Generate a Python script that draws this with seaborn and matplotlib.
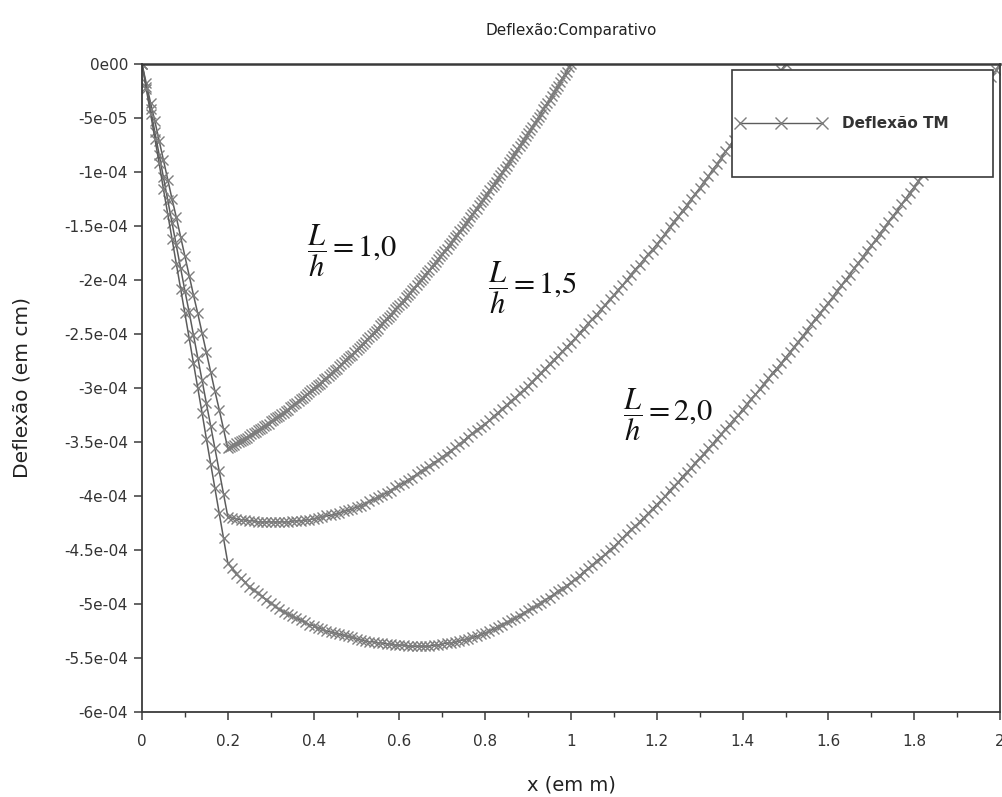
import numpy as np
import matplotlib
matplotlib.use("Agg")
import matplotlib.pyplot as plt
import seaborn as sns
from matplotlib.patches import Rectangle
from matplotlib.lines import Line2D
from matplotlib.ticker import MultipleLocator

# ---------------- data: deflection magnitude in units of 1e-6 cm ----------------
# steep segment sampled every 0.01 m from x = 0 to 0.19 m; main segment starts at x = 0.20 m
steep_step = 0.01
main_start = 0.20

# L/h = 1,0
lh10_steep = [0, 18, 36, 53, 71, 89, 107, 125, 142, 160, 178, 196, 214, 231, 249, 267, 285, 303, 320, 338]
lh10_step = 0.005
lh10_main = [356, 355, 354, 353, 351, 350, 349, 348, 347, 346, 344, 343, 342, 341, 339, 338, 337, 335,
             334, 333, 331, 330, 328, 327, 326, 324, 323, 321, 320, 318, 317, 315, 314, 312, 310, 309,
             307, 306, 304, 302, 301, 299, 297, 296, 294, 292, 291, 289, 287, 285, 283, 282, 280, 278,
             276, 274, 272, 270, 269, 267, 265, 263, 261, 259, 257, 255, 253, 251, 249, 247, 245, 242,
             240, 238, 236, 234, 232, 230, 227, 225, 223, 221, 219, 216, 214, 212, 209, 207, 205, 202,
             200, 198, 195, 193, 191, 188, 186, 183, 181, 178, 176, 173, 171, 168, 166, 163, 160, 158,
             155, 153, 150, 147, 145, 142, 139, 137, 134, 131, 128, 126, 123, 120, 117, 114, 112, 109,
             106, 103, 100, 97, 94, 91, 88, 85, 82, 79, 76, 73, 70, 67, 64, 61, 58, 55, 52, 49, 46, 42,
             39, 36, 33, 30, 26, 23, 20, 17, 13, 10, 7, 3, 0]

# L/h = 1,5
lh15_steep = [0, 21, 42, 63, 84, 105, 126, 147, 168, 189, 210, 230, 251, 272, 293, 314, 335, 356, 377, 398]
lh15_step = 0.01
lh15_main = [419,
             420, 421, 422, 422, 423, 423, 424, 424, 424, 424,
             424, 424, 424, 424, 423, 423, 423, 422, 422, 421,
             420, 419, 418, 418, 417, 416, 414, 413, 412, 410,
             409, 407, 405, 403, 401, 399, 397, 395, 392, 390,
             388, 385, 383, 380, 377, 375, 372, 369, 367, 364,
             361, 358, 355, 352, 349, 345, 342, 339, 336, 333,
             330, 326, 323, 319, 316, 312, 309, 305, 302, 298,
             294, 290, 286, 282, 278, 274, 270, 266, 262, 258,
             254, 249, 245, 240, 236, 232, 227, 223, 218, 214,
             209, 205, 200, 195, 190, 186, 181, 176, 172, 167,
             162, 157, 151, 146, 141, 136, 131, 125, 120, 115,
             109, 104, 98, 93, 87, 81, 76, 70, 65, 59,
             53, 47, 41, 35, 29, 24, 18, 12, 6, 0]

# L/h = 2,0
lh20_steep = [0, 23, 46, 69, 92, 116, 139, 162, 185, 208, 231, 254, 277, 300, 323, 347, 370, 393, 416, 439]
lh20_step = 0.01
lh20_main = [462,
             467, 472, 476, 480, 484, 487, 490, 493, 496, 499,
             502, 505, 507, 509, 511, 513, 515, 517, 519, 520,
             522, 523, 525, 526, 527, 528, 529, 530, 531, 532,
             533, 534, 535, 535, 536, 536, 537, 537, 538, 538,
             538, 539, 539, 539, 539, 539, 539, 538, 538, 537,
             536, 536, 535, 534, 533, 532, 531, 530, 528, 527,
             525, 523, 521, 519, 517, 515, 513, 511, 508, 506,
             504, 501, 499, 496, 494, 491, 488, 486, 483, 480,
             477, 474, 470, 467, 464, 460, 457, 454, 450, 447,
             443, 439, 435, 431, 428, 424, 420, 416, 412, 408,
             404, 400, 395, 391, 387, 382, 378, 374, 369, 365,
             361, 356, 352, 347, 343, 338, 334, 329, 325, 320,
             315, 310, 306, 301, 296, 291, 286, 282, 277, 272,
             267, 262, 257, 252, 247, 241, 236, 231, 226, 221,
             216, 210, 205, 200, 195, 189, 184, 179, 173, 168,
             163, 157, 152, 146, 141, 136, 130, 125, 119, 114,
             108, 103, 97, 91, 86, 80, 75, 69, 63, 58,
             52, 46, 41, 35, 29, 23, 17, 12, 6, 0]

curve_texts = [r"$\dfrac{L}{h}=1{,}0$", r"$\dfrac{L}{h}=1{,}5$", r"$\dfrac{L}{h}=2{,}0$"]
legend_label = "Deflexão TM"
title = "Deflexão:Comparativo"
xlabel = "x (em m)"
ylabel = "Deflexão (em cm)"
xtick_values = [0, 0.2, 0.4, 0.6, 0.8, 1.0, 1.2, 1.4, 1.6, 1.8, 2.0]
xtick_labels = ["0", "0.2", "0.4", "0.6", "0.8", "1", "1.2", "1.4", "1.6", "1.8", "2"]
ytick_values = [0, -5e-05, -1e-04, -1.5e-04, -2e-04, -2.5e-04, -3e-04, -3.5e-04,
                -4e-04, -4.5e-04, -5e-04, -5.5e-04, -6e-04]
ytick_labels = ["0e00", "-5e-05", "-1e-04", "-1.5e-04", "-2e-04", "-2.5e-04", "-3e-04", "-3.5e-04",
                "-4e-04", "-4.5e-04", "-5e-04", "-5.5e-04", "-6e-04"]

# ---------------- style ----------------
sns.set_style("ticks")
plt.rcParams["font.family"] = ["DejaVu Sans"]
line_color = "#5c5c5c"
marker_color = "#7e7e7e"
axis_color = "#3a3a3a"

W, H = 1002, 797
fig = plt.figure(figsize=(W / 100, H / 100), dpi=100)
fig.patch.set_facecolor("white")
ax = fig.add_axes([142 / W, 1 - 712 / H, 858 / W, 648 / H])
ax.set_facecolor("white")


def build_xy(steep, main, main_step):
    xs = np.round(np.arange(len(steep)) * steep_step, 3)
    xm = np.round(main_start + np.arange(len(main)) * main_step, 3)
    x = np.concatenate([xs, xm])
    y = -np.asarray(list(steep) + list(main), dtype=float) * 1e-6
    return x, y


for steep, main, st in [(lh10_steep, lh10_main, lh10_step),
                        (lh15_steep, lh15_main, lh15_step),
                        (lh20_steep, lh20_main, lh20_step)]:
    x, y = build_xy(steep, main, st)
    sns.lineplot(x=x, y=y, ax=ax, color=line_color, linewidth=1.1, marker="x",
                 markersize=7.5, markeredgewidth=1.0, markeredgecolor=marker_color,
                 estimator=None, sort=False, legend=False)

ax.set_xlim(0, 2)
ax.set_ylim(-6e-4, 0)
ax.set_xticks(xtick_values)
ax.set_xticklabels(xtick_labels)
ax.xaxis.set_minor_locator(MultipleLocator(0.1))
ax.set_yticks(ytick_values)
ax.set_yticklabels(ytick_labels)

for s in ax.spines.values():
    s.set_visible(True)
    s.set_color(axis_color)
    s.set_linewidth(1.3)
ax.spines["top"].set_linewidth(1.8)
ax.tick_params(axis="both", which="major", direction="out", length=6, width=1.1,
               color=axis_color, labelsize=11, labelcolor="#333333")
ax.tick_params(axis="x", which="minor", direction="out", length=3.5, width=1.0, color=axis_color)
ax.tick_params(axis="x", which="major", pad=10)
ax.tick_params(axis="y", which="major", pad=4)

ax.set_title(title, fontsize=11, color="#222222", pad=21)
ax.set_xlabel(xlabel, fontsize=14, color="#222222")
ax.set_ylabel(ylabel, fontsize=14.5, color="#222222")
ax.xaxis.set_label_coords(0.5, (712 - 785) / 648)
ax.xaxis.label.set_va("center")
ax.yaxis.set_label_coords((22 - 142) / 858, 0.5)
ax.yaxis.label.set_va("center")

# curve annotations
text_pos = [(0.385, -1.73e-4), (0.807, -2.07e-4), (1.121, -3.25e-4)]
for (tx, ty), t in zip(text_pos, curve_texts):
    ax.text(tx, ty, t, fontsize=22, math_fontfamily="stix", ha="left", va="center", color="#111111")

# legend box
rect = Rectangle((0.6876, 0.8256), 0.3042, 0.1651, transform=ax.transAxes,
                 facecolor="white", edgecolor=axis_color, linewidth=1.2, zorder=5)
ax.add_patch(rect)
proxy = Line2D([], [], color=line_color, linewidth=1.0, marker="x", markersize=9,
               markeredgewidth=1.0, markeredgecolor=marker_color)
leg = ax.legend([proxy], [legend_label], loc="center left",
                bbox_to_anchor=(0.6876, 0.9082), frameon=False, numpoints=3,
                handlelength=6.0, handletextpad=1.0, borderaxespad=0.2, borderpad=0,
                prop={"weight": "bold", "size": 11})
leg.set_zorder(6)
for t in leg.get_texts():
    t.set_color("#333333")

fig.savefig("out.png", dpi=100, facecolor="white")
